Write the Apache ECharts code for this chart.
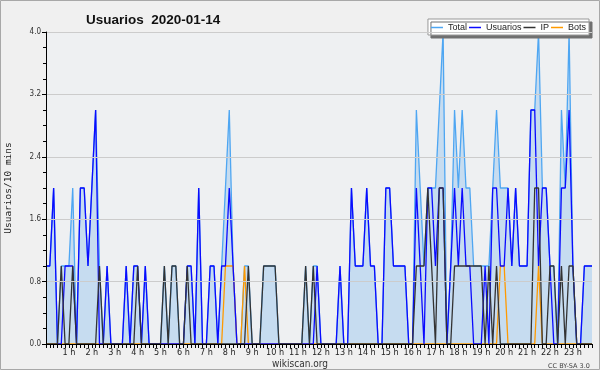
<!DOCTYPE html>
<html>
<head>
<meta charset="utf-8">
<script src="https://cdn.jsdelivr.net/npm/echarts@6/dist/echarts.min.js"></script>
<style>
  html, body { margin: 0; padding: 0; background: #f0f0f0; }
  #chart { width: 600px; height: 370px; }
</style>
</head>
<body>
<div id="chart"></div>
<script>
// etiquetas de las horas (una cada 6 puntos de 10 min)
const hourLabels = ['0 h', '1 h', '2 h', '3 h', '4 h', '5 h', '6 h', '7 h', '8 h', '9 h', '10 h', '11 h',
  '12 h', '13 h', '14 h', '15 h', '16 h', '17 h', '18 h', '19 h', '20 h', '21 h', '22 h', '23 h'];
const yTicks = [0, 0.8, 1.6, 2.4, 3.2, 4.0];

// valores cada 10 minutos, 00:00 -> 23:50 (12 por fila = 2 horas)
const total = [
  1,1,2,0,1,1,1,2,0,2,2,1,  2,3,1,0,1,0,0,0,0,1,0,1,
  1,0,1,0,0,0,0,1,0,1,1,0,  0,1,1,0,2,0,0,1,1,0,1,2,
  3,1,0,0,1,1,0,0,0,1,1,1,  1,0,0,0,0,0,0,0,1,0,1,1,
  0,0,0,0,0,1,0,0,2,1,1,1,  2,1,1,0,0,2,2,1,1,1,1,0,
  0,3,2,1,2,2,2,3,4,0,1,3,  2,3,2,2,1,1,1,1,1,2,3,2,
  2,2,1,2,1,1,1,3,3,4,2,2,  1,1,0,3,2,4,1,0,0,1,1,1
];
const usuarios = [
  1,1,2,0,0,1,1,1,0,2,2,1,  2,3,0,0,1,0,0,0,0,1,0,1,
  1,0,1,0,0,0,0,0,0,0,0,0,  0,1,1,0,2,0,0,1,1,0,1,1,
  2,1,0,0,0,0,0,0,0,0,0,0,  0,0,0,0,0,0,0,0,0,0,0,1,
  0,0,0,0,0,1,0,0,2,1,1,1,  2,1,1,0,0,2,2,1,1,1,1,0,
  0,2,1,0,2,2,1,2,2,0,1,2,  1,2,1,1,0,0,0,1,0,2,2,1,
  1,2,1,2,1,1,1,3,3,1,2,2,  1,0,0,2,2,3,1,0,0,1,1,1
];
const ip = [
  0,0,0,0,1,0,0,1,0,0,0,0,  0,0,1,0,0,0,0,0,0,0,0,0,
  1,0,0,0,0,0,0,1,0,1,1,0,  0,1,0,0,0,0,0,0,0,0,0,0,
  0,0,0,0,0,1,0,0,0,1,1,1,  1,0,0,0,0,0,0,0,1,0,1,0,
  0,0,0,0,0,0,0,0,0,0,0,0,  0,0,0,0,0,0,0,0,0,0,0,0,
  0,1,1,1,2,1,0,2,2,0,0,1,  1,1,1,1,1,1,1,0,1,0,1,0,
  0,0,0,0,0,0,0,0,2,2,0,0,  1,1,0,1,0,1,1,0,0,0,0,0
];
const bots = [
  0,0,0,0,0,0,0,0,0,0,0,0,  0,0,0,0,0,0,0,0,0,0,0,0,
  0,0,0,0,0,0,0,0,0,0,0,0,  0,0,0,0,0,0,0,0,0,0,0,1,
  1,1,0,0,1,0,0,0,0,0,0,0,  0,0,0,0,0,0,0,0,0,0,0,0,
  0,0,0,0,0,0,0,0,0,0,0,0,  0,0,0,0,0,0,0,0,0,0,0,0,
  0,0,0,0,0,0,0,0,0,0,0,0,  0,0,0,0,0,0,0,0,0,0,0,1,
  1,0,0,0,0,0,0,0,0,1,0,0,  0,0,0,0,0,0,0,0,0,0,0,0
];

// una categoria por cada 10 min; solo las horas llevan texto
const categories = [];
hourLabels.forEach(h => {
  categories.push(h);
  for (let k = 1; k < 6; k++) categories.push('');
});

const chart = echarts.init(document.getElementById('chart'));

const lineSeries = (name, data, color, extra) => Object.assign({
  name: name,
  type: 'line',
  data: data,
  symbol: 'none',
  lineStyle: { width: 1.3, color: color },
  itemStyle: { color: color },
  animation: false
}, extra || {});

chart.setOption({
  backgroundColor: '#f0f0f0',
  textStyle: { fontFamily: 'DejaVu Sans' },
  graphic: [{
    type: 'rect', silent: true, z: 100,
    shape: { x: 0.5, y: 0.5, width: 599, height: 369 },
    style: { fill: null, stroke: '#a8a8a8', lineWidth: 1 }
  }],
  title: [{
    text: 'Usuarios  2020-01-14',
    left: 81, top: 8,
    textStyle: { fontSize: 13.5, fontWeight: 'bold', color: '#111', fontFamily: 'Liberation Sans' }
  }, {
    text: 'wikiscan.org',
    left: 'center', top: 354,
    textStyle: { fontSize: 10, fontWeight: 'normal', color: '#333', fontFamily: 'DejaVu Sans Condensed' }
  }, {
    text: 'CC BY-SA 3.0',
    left: 543, top: 358,
    textStyle: { fontSize: 6.5, fontWeight: 'normal', color: '#444' }
  }],
  legend: {
    right: 11, top: 19,
    padding: [4, 3, 3, 3],
    itemGap: 2,
    itemWidth: 12, itemHeight: 1.5,
    icon: 'rect',
    backgroundColor: '#ffffff',
    borderColor: '#999', borderWidth: 1,
    shadowColor: '#707070', shadowBlur: 0, shadowOffsetX: 3, shadowOffsetY: 3,
    textStyle: { fontSize: 9, color: '#222', fontFamily: 'Liberation Sans' },
    data: ['Total', 'Usuarios', 'IP', 'Bots']
  },
  grid: {
    left: 46, right: 8, top: 32, bottom: 26,
    outerBoundsMode: 'none', containLabel: false,
    show: true, backgroundColor: '#eef0f2', borderWidth: 0
  },
  xAxis: {
    type: 'category',
    data: categories,
    boundaryGap: false,
    z: 10,
    axisLine: { lineStyle: { color: '#000', width: 1 } },
    axisTick: { interval: 0, length: 4, lineStyle: { color: '#000' } },
    axisLabel: {
      interval: 0, fontSize: 9, color: '#222', margin: 4, fontFamily: 'DejaVu Sans Condensed',
      formatter: v => (v === '0 h' ? '' : v)
    },
    splitLine: { show: false }
  },
  yAxis: {
    type: 'value',
    min: yTicks[0], max: yTicks[yTicks.length - 1], interval: 0.8,
    name: 'Usuarios/10 mins',
    nameLocation: 'middle', nameGap: 32, nameRotate: 90,
    nameTextStyle: { fontSize: 9.5, fontFamily: 'DejaVu Sans Mono', color: '#222' },
    z: 10,
    axisLine: { show: true, lineStyle: { color: '#000', width: 1 } },
    axisTick: { show: true, length: 4, lineStyle: { color: '#000' } },
    minorTick: { show: true, splitNumber: 4, length: 3, lineStyle: { color: '#000' } },
    axisLabel: { fontSize: 8, color: '#333', margin: 5, fontFamily: 'DejaVu Sans Condensed', formatter: v => v.toFixed(1) },
    splitLine: { lineStyle: { color: '#cccccc', width: 1 } }
  },
  series: [
    lineSeries('Total', total, '#4ea6f2', { areaStyle: { color: '#c6dcf0', opacity: 1 }, z: 1 }),
    lineSeries('Usuarios', usuarios, '#0a0aff', { z: 3 }),
    lineSeries('IP', ip, '#333333', { z: 4 }),
    lineSeries('Bots', bots, '#ff9a00', { z: 2 })
  ]
});
</script>
</body>
</html>
